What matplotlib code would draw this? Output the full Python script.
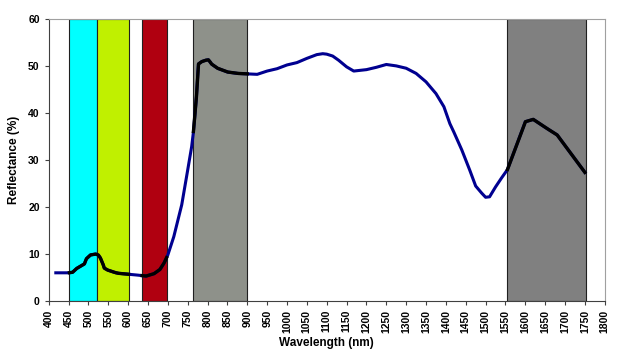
import numpy as np
import matplotlib.pyplot as plt

# reflectance curve
wl = [418, 450, 460, 470, 480, 490, 495, 505, 518, 525, 530, 537, 540, 548, 555, 565, 575,
      600, 625, 645, 665, 680, 690, 700, 715, 735, 750, 760, 764, 768, 772, 777, 785, 795,
      802, 806, 810, 825, 850, 875, 900, 925, 950, 975, 1000, 1025, 1050, 1075, 1090, 1100,
      1115, 1130, 1150, 1168, 1200, 1225, 1250, 1275, 1300, 1325, 1350, 1375, 1395, 1410,
      1420, 1440, 1460, 1475, 1490, 1500, 1510, 1525, 1540, 1555, 1600, 1620, 1650, 1680, 1750]
refl = [6.0, 6.0, 6.1, 6.9, 7.4, 7.9, 9.0, 9.8, 10.0, 9.8, 9.2, 7.8, 7.0, 6.6, 6.4, 6.1, 5.9,
        5.7, 5.5, 5.3, 5.8, 6.7, 8.0, 9.8, 13.7, 20.5, 27.9, 32.9, 35.7, 39.5, 43.5, 50.5, 51.0, 51.3,
        51.4, 51.0, 50.5, 49.6, 48.8, 48.5, 48.4, 48.3, 49.0, 49.5, 50.3, 50.8, 51.7, 52.5, 52.7, 52.6,
        52.2, 51.3, 49.9, 49.0, 49.3, 49.8, 50.4, 50.1, 49.6, 48.5, 46.7, 44.2, 41.4, 37.8,
        36.0, 32.2, 27.9, 24.5, 23.0, 22.1, 22.2, 24.3, 26.2, 28.0, 38.2, 38.7, 37.0, 35.4, 27.4]

# spectral bands (nm)
band_lo = [452, 521, 635, 764, 1555]
band_hi = [521, 601, 697, 900, 1754]
band_col = ['#00ffff', '#c0f000', '#b00010', '#8e918a', '#808080']

wl = np.array(wl)
refl = np.array(refl)

fig = plt.figure(figsize=(6.28, 3.6), dpi=100)
ax = fig.add_axes([0.0775, 0.164, 0.8855, 0.782])

for lo, hi, c in zip(band_lo, band_hi, band_col):
    ax.axvspan(lo, hi, color=c, ec='#202020', lw=0.8, zorder=1)

ax.plot(wl, refl, color='#000090', lw=2.2, zorder=3)
# black where the curve crosses a band
xs = np.linspace(418, 1750, 3000)
ys = np.interp(xs, wl, refl)
m = np.zeros(len(xs), dtype=bool)
for lo, hi in zip(band_lo, band_hi):
    m |= (xs >= lo) & (xs <= hi)
ax.plot(xs, np.where(m, ys, np.nan), color='black', lw=2.4, zorder=4)

ax.set_xlim(400, 1800)
ax.set_ylim(0, 60)
ax.set_xticks(np.arange(400, 1801, 50))
ax.set_yticks(np.arange(0, 61, 10))
ax.tick_params(axis='x', rotation=90)
ax.tick_params(labelsize=7.5, length=3, width=0.8, color='#404040')
for lab in ax.get_xticklabels() + ax.get_yticklabels():
    lab.set_fontfamily('Liberation Sans')
    lab.set_fontweight('bold')
ax.spines['left'].set_color('#404040')
ax.spines['bottom'].set_color('#404040')
ax.spines['top'].set_color('#a0a0a0')
ax.spines['right'].set_color('#a0a0a0')

ax.set_xlabel('Wavelength (nm)', fontsize=8.5, fontweight='bold', family='Liberation Sans', labelpad=3)
ax.set_ylabel('Reflectance (%)', fontsize=8.5, fontweight='bold', family='Liberation Sans', labelpad=6)

fig.savefig('out.png', dpi=100)
